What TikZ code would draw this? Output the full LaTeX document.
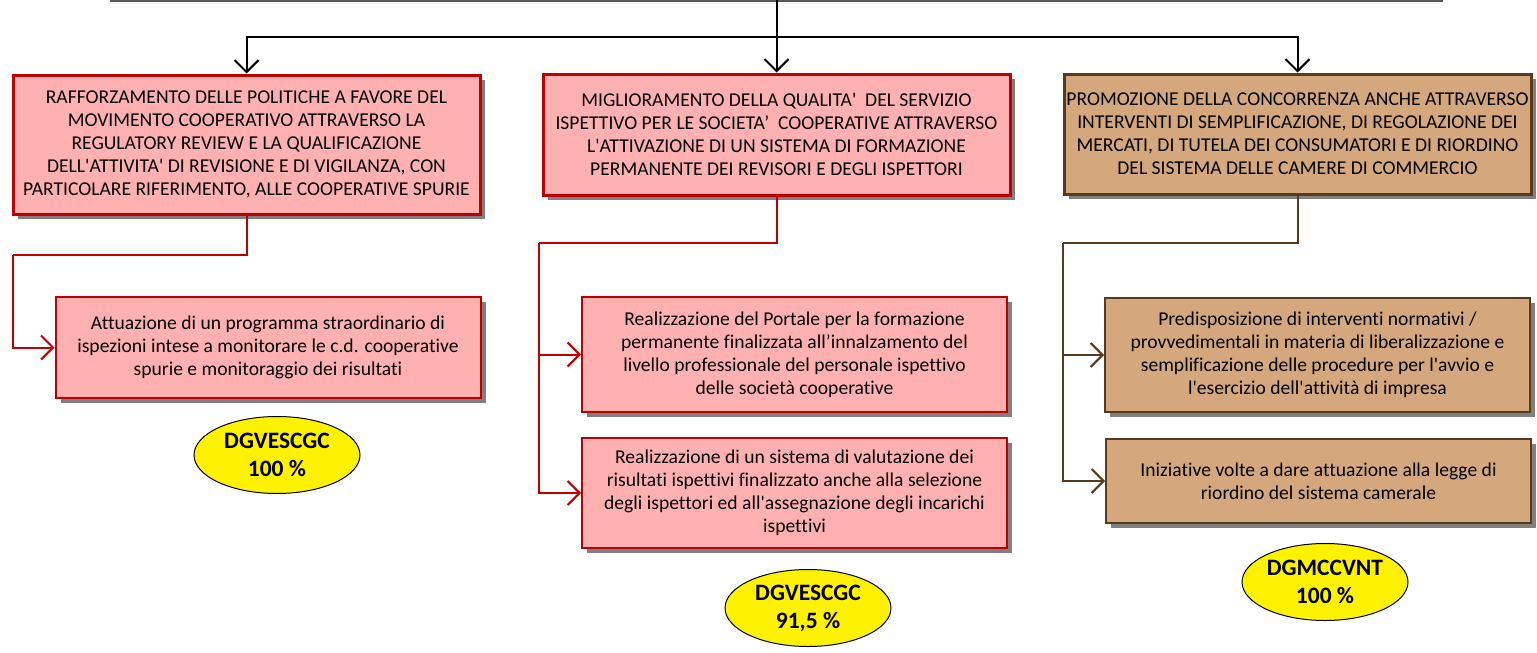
\documentclass[tikz,border=0pt]{standalone}
\usepackage{fontspec}
\setmainfont{Carlito}[Ligatures={TeXOff,NoCommon}]
\usetikzlibrary{arrows.meta,shadows,shapes.geometric}
\definecolor{goalred}{HTML}{C00000}
\definecolor{goalpink}{HTML}{FFB0B0}
\definecolor{goaltan}{HTML}{D4A77C}
\definecolor{goalbrown}{HTML}{583A1D}
\tikzset{>={Straight Barb[length=12pt,width=24pt]}, % open arrow heads
x=1pt, y=-1pt, % one unit per pixel, y pointing down
box/.style={draw, inner sep=0pt, align=center, font=\fontsize{19.6}{23}\selectfont,
  drop shadow={shadow xshift=5pt, shadow yshift=-5pt, fill=gray, opacity=1}}, % common box look
redgoal/.style={box, line width=3pt, draw=goalred, fill=goalpink, minimum width=467}, % top level, red
browngoal/.style={box, line width=3pt, draw=goalbrown, fill=goaltan, minimum width=467}, % top level, brown
redact/.style={box, line width=2pt, draw=goalred, fill=goalpink, minimum width=425}, % actions, red
brownact/.style={box, line width=2pt, draw=goalbrown, fill=goaltan, minimum width=425}, % actions, brown
result/.style={ellipse, draw, line width=1pt, fill=yellow, inner sep=0pt, align=center,
  minimum width=166, minimum height=77, font=\bfseries\fontsize{23.5}{28}\selectfont}, % yellow ovals
tree/.style={->, line width=2pt, black}, % black connectors
redline/.style={->, line width=2pt, goalred}, % red connectors
brownline/.style={->, line width=2pt, goalbrown}, % brown connectors
}

\begin{document}
\begin{tikzpicture}
\useasboundingbox (0,0) rectangle (1537,653);
\draw[line width=2pt, gray!70!black] (110,1) -- (1443,1);

\coordinate (top) at (776.5,0);
\coordinate (split) at (776.5,37);

\node[redgoal, minimum height=139] (1) at (246.5,144.5) {RAFFORZAMENTO DELLE POLITICHE A FAVORE DEL\\MOVIMENTO COOPERATIVO ATTRAVERSO LA\\REGULATORY REVIEW E LA QUALIFICAZIONE\\DELL'ATTIVITA' DI REVISIONE E DI VIGILANZA, CON\\PARTICOLARE RIFERIMENTO, ALLE COOPERATIVE SPURIE};
\node[redgoal, minimum height=121] (2) at (776.5,134.5) {MIGLIORAMENTO DELLA QUALITA'\ \ DEL SERVIZIO\\ISPETTIVO PER LE SOCIETA’\ \ COOPERATIVE ATTRAVERSO\\L'ATTIVAZIONE DI UN SISTEMA DI FORMAZIONE\\PERMANENTE DEI REVISORI E DEGLI ISPETTORI};
\node[browngoal, minimum height=120] (3) at (1297.5,134) {\raisebox{9pt}{\parbox{467pt}{\centering PROMOZIONE DELLA CONCORRENZA ANCHE ATTRAVERSO\\INTERVENTI DI SEMPLIFICAZIONE, DI REGOLAZIONE DEI\\MERCATI, DI TUTELA DEI CONSUMATORI E DI RIORDINO\\DEL SISTEMA DELLE CAMERE DI COMMERCIO}}};

\node[redact, minimum height=101] (1a) at (268,347.5) {Attuazione di un programma straordinario di\\ispezioni intese a monitorare le c.d. cooperative\\spurie e monitoraggio dei risultati};
\node[redact, minimum height=115] (2a) at (794.5,354.5) {Realizzazione del Portale per la formazione\\permanente finalizzata all’innalzamento del\\livello professionale del personale ispettivo\\delle società cooperative};
\node[redact, minimum height=110] (2b) at (794.5,493) {Realizzazione di un sistema di valutazione dei\\risultati ispettivi finalizzato anche alla selezione\\degli ispettori ed all'assegnazione degli incarichi\\ispettivi};
\node[brownact, minimum height=114] (3a) at (1317.5,355) {Predisposizione di interventi normativi /\\provvedimentali in materia di liberalizzazione e\\semplificazione delle procedure per l'avvio e\\l'esercizio dell'attività di impresa};
\node[brownact, minimum height=84] (3b) at (1318.5,481) {Iniziative volte a dare attuazione alla legge di\\riordino del sistema camerale};

\node[result] (r1) at (277,455) {DGVESCGC\\100 \%};
\node[result] (r2) at (808,608) {DGVESCGC\\91,5 \%};
\node[result] (r3) at (1325,582) {DGMCCVNT\\100 \%};

\draw[tree, -] (top) -- (split);
\draw[tree] (split) -| (1.north);
\draw[tree] (split) -- (2.north);
\draw[tree] (split) -| (3.north);

\coordinate (b1) at (12.5,255);
\coordinate (b2) at (538.5,243);
\coordinate (b3) at (1062.5,243);
\draw[redline, -] (1.south) |- (b1);
\draw[redline] (b1) |- (1a.west);
\draw[redline, -] (2.south) |- (b2);
\draw[redline] (b2) |- (2a.west);
\draw[redline] (b2) |- (2b.west);
\draw[brownline, -] (3.south) |- (b3);
\draw[brownline] (b3) |- (3a.west);
\draw[brownline] (b3) |- (3b.west);
\end{tikzpicture}
\end{document}
